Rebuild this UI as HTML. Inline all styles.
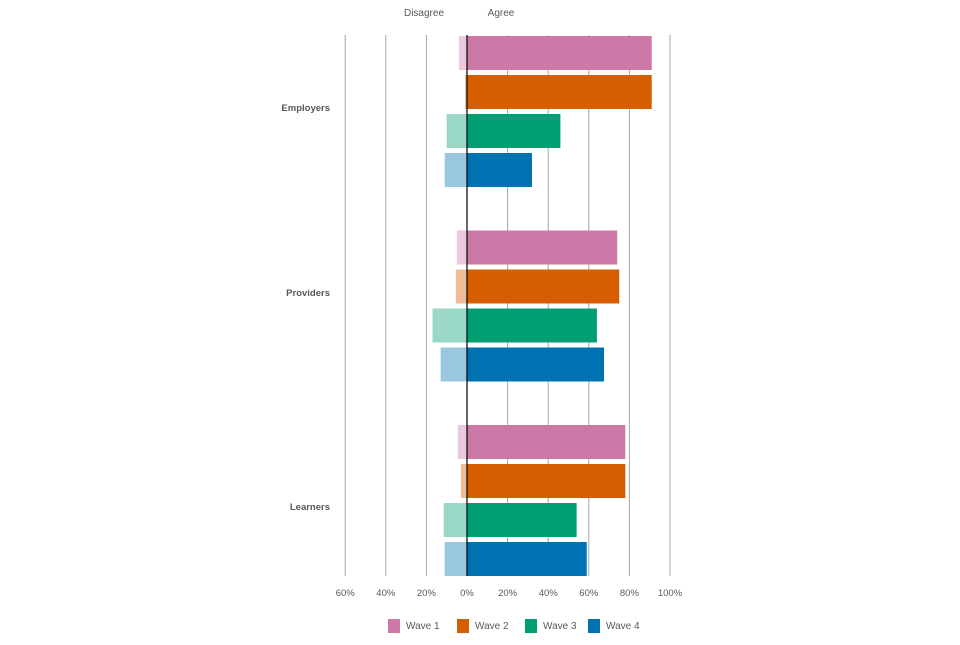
<!DOCTYPE html>
<html><head><meta charset="utf-8"><style>
body{margin:0;background:#fff;font-family:"Liberation Sans",sans-serif;}
svg text{font-family:"Liberation Sans",sans-serif;fill:#595959;}
</style></head><body>
<svg width="960" height="640" id="c"></svg>
<script>
const groups=["Employers","Providers","Learners"];
const series=["Wave 1","Wave 2","Wave 3","Wave 4"];
const agree=[[91,91,46,32],[74,75,64,67.5],[78,78,54,59]];
const disagree=[[4,1,10,11],[5,5.5,17,13],[4.5,3,11.5,11]];
const ticks=[-60,-40,-20,0,20,40,60,80,100];
const tickLabels=["60%","40%","20%","0%","20%","40%","60%","80%","100%"];
const colors=["#cc79a7","#d55e00","#009e73","#0072b2"];
const light=["#ebc9dc","#eebc99","#99d8c7","#99c7e0"];
const svg=document.getElementById('c');const NS="http://www.w3.org/2000/svg";
function x(v){return 467+v*2.03;}
const plotTop=35,plotBottom=576;
const labelY=[111,296,510];
function y(g,s){return 36+g*194.5+s*39;}
function add(tag,attrs,txt){const e=document.createElementNS(NS,tag);for(const k in attrs)e.setAttribute(k,attrs[k]);if(txt!==undefined)e.textContent=txt;svg.appendChild(e);return e;}
ticks.forEach((t,i)=>{
 const l=add('line',{x1:x(t),x2:x(t),y1:plotTop,y2:plotBottom,stroke:'#a6a6a6','stroke-width':1});
 
 
 const tx=add('text',{x:x(t),y:596,'font-size':9.5,'text-anchor':'middle'},tickLabels[i]);
 
 
});
groups.forEach((g,gi)=>{
 const gl=add('text',{x:330,y:labelY[gi],'font-size':9.5,'text-anchor':'end','font-weight':'bold'},g);
 
 
 series.forEach((s,si)=>{
  const yy=y(gi,si);
  const a=add('rect',{x:x(0),y:yy,width:x(agree[gi][si])-x(0),height:34,fill:colors[si]});
  
  
  const d=add('rect',{x:x(-disagree[gi][si]),y:yy,width:x(0)-x(-disagree[gi][si]),height:34,fill:light[si]});
  
  
 });
});
const zl=add('line',{x1:x(0),x2:x(0),y1:plotTop,y2:plotBottom,stroke:'#000','stroke-width':1.2});


const h1=add('text',{x:424,y:16,'font-size':10,'text-anchor':'middle'},"Disagree");


const h2=add('text',{x:501,y:16,'font-size':10,'text-anchor':'middle'},"Agree");


const lx=[388,457,525,588];
series.forEach((s,i)=>{
 const r=add('rect',{x:lx[i],y:619,width:12,height:14,fill:colors[i]});
 
 
 const t=add('text',{x:lx[i]+18,y:629,'font-size':10},s);
 
 
});
</script>
</body></html>
